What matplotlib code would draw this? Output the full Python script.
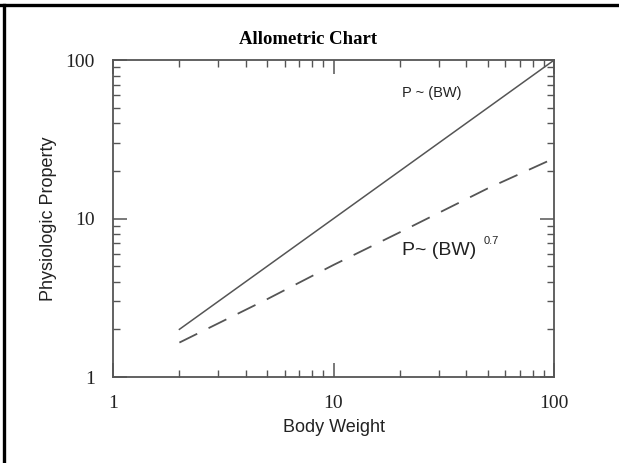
""" allometric chart """

import matplotlib.pyplot as plt
from matplotlib.lines import Line2D
from matplotlib.ticker import LogLocator, NullFormatter, FixedLocator, FixedFormatter

# values
body_weight = [2, 5, 10, 20, 50, 100]
prop_linear = [2, 5, 10, 20, 50, 100]
prop_allom = [1.65, 3.1, 5.1, 8.2, 15.5, 24]
tick_vals = [1, 10, 100]
tick_text = ["1", "10", "100"]

fig = plt.figure(figsize=(6.19, 4.63), dpi=100)
ax = fig.add_axes([0.1826, 0.1857, 0.7124, 0.6843])

grey = "#555555"
ax.plot(body_weight, prop_linear, color=grey, lw=1.1)
ax.plot(body_weight, prop_allom, color=grey, lw=1.3, dashes=(11, 7))

ax.set_xscale("log")
ax.set_yscale("log")
ax.set_xlim(1, 100)
ax.set_ylim(1, 100)

for a in (ax.xaxis, ax.yaxis):
    a.set_major_locator(FixedLocator(tick_vals))
    a.set_major_formatter(FixedFormatter(tick_text))
    a.set_minor_locator(LogLocator(base=10, subs=range(2, 10)))
    a.set_minor_formatter(NullFormatter())

ax.tick_params(which="both", direction="in", top=True, right=True, color=grey)
ax.tick_params(which="major", length=10, width=1.1, labelsize=14, pad=13,
               labelcolor="#222222")
ax.tick_params(which="minor", length=5, width=1.0)
for lab in ax.get_xticklabels() + ax.get_yticklabels():
    lab.set_family("Liberation Serif")
for s in ax.spines.values():
    s.set_color(grey)
    s.set_linewidth(1.3)

ax.set_xlabel("Body Weight", fontsize=13, family="Liberation Sans", color="#222222", labelpad=5)
ax.set_ylabel("Physiologic Property", fontsize=13, family="Liberation Sans", color="#222222", labelpad=6)

ax.text(28, 62, "P ~ (BW)", fontsize=10.5, family="Liberation Sans", ha="center", va="center", color="#222222")
ax.text(20.5, 6.3, "P~ (BW)", fontsize=14, family="Liberation Sans", ha="left", va="center", color="#222222")
ax.text(48, 7.2, "0.7", fontsize=8, family="Liberation Sans", ha="left", va="center", color="#222222")

fig.text(0.497, 0.914, "Allometric Chart", fontsize=13.5, weight="bold",
         family="Liberation Serif", ha="center", va="center")

# frame lines along the top and left edges
fig.add_artist(Line2D([0, 1], [0.989, 0.989], transform=fig.transFigure, color="black", lw=2.4))
fig.add_artist(Line2D([0.0065, 0.0065], [0, 0.989], transform=fig.transFigure, color="black", lw=2.4))

fig.savefig("out.png", dpi=100)
